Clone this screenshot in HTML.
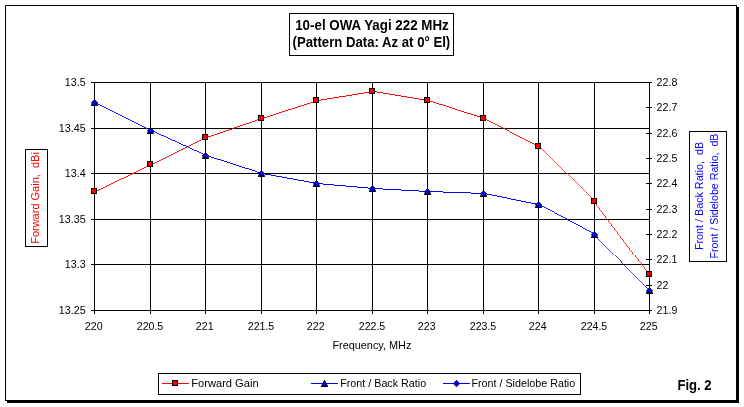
<!DOCTYPE html>
<html><head><meta charset="utf-8"><title>10-el OWA Yagi 222 MHz</title>
<style>
html,body{margin:0;padding:0;background:#fff;}
svg{display:block;}
text{font-family:"Liberation Sans",Arial,sans-serif;font-size:11px;fill:#000;}
.b{font-weight:bold;font-size:14px;}
</style></head><body>
<svg width="744" height="407" viewBox="0 0 744 407">
<rect x="0" y="0" width="744" height="407" fill="#fff"/>
<g shape-rendering="crispEdges">
<rect x="7" y="7" width="732" height="396" fill="#000"/>
<rect x="5.5" y="5.5" width="731" height="395" fill="#fff" stroke="#000" stroke-width="1"/>
<rect x="289.5" y="13.5" width="164" height="42" fill="#fff" stroke="#000" stroke-width="1"/>

<line x1="94.5" y1="82" x2="94.5" y2="314" stroke="#000"/>
<line x1="150.5" y1="82" x2="150.5" y2="314" stroke="#000"/>
<line x1="205.5" y1="82" x2="205.5" y2="314" stroke="#000"/>
<line x1="261.5" y1="82" x2="261.5" y2="314" stroke="#000"/>
<line x1="316.5" y1="82" x2="316.5" y2="314" stroke="#000"/>
<line x1="372.5" y1="82" x2="372.5" y2="314" stroke="#000"/>
<line x1="427.5" y1="82" x2="427.5" y2="314" stroke="#000"/>
<line x1="483.5" y1="82" x2="483.5" y2="314" stroke="#000"/>
<line x1="538.5" y1="82" x2="538.5" y2="314" stroke="#000"/>
<line x1="594.5" y1="82" x2="594.5" y2="314" stroke="#000"/>
<line x1="649.5" y1="82" x2="649.5" y2="314" stroke="#000"/>
<line x1="91" y1="82.5" x2="650" y2="82.5" stroke="#000"/>
<line x1="91" y1="128.5" x2="650" y2="128.5" stroke="#000"/>
<line x1="91" y1="173.5" x2="650" y2="173.5" stroke="#000"/>
<line x1="91" y1="219.5" x2="650" y2="219.5" stroke="#000"/>
<line x1="91" y1="264.5" x2="650" y2="264.5" stroke="#000"/>
<line x1="91" y1="310.5" x2="650" y2="310.5" stroke="#000"/>
</g>
<g stroke="#f00" shape-rendering="crispEdges" fill="none">
<line x1="94.50" y1="191.50" x2="150.50" y2="164.50" stroke-width="0.901"/>
<line x1="150.50" y1="164.50" x2="205.50" y2="137.50" stroke-width="0.898"/>
<line x1="205.50" y1="137.50" x2="261.50" y2="118.50" stroke-width="0.947"/>
<line x1="261.50" y1="118.50" x2="316.50" y2="100.50" stroke-width="0.950"/>
<line x1="316.50" y1="100.50" x2="372.50" y2="91.50" stroke-width="0.987"/>
<line x1="372.50" y1="91.50" x2="427.50" y2="100.50" stroke-width="0.987"/>
<line x1="427.50" y1="100.50" x2="483.50" y2="118.50" stroke-width="0.952"/>
<line x1="483.50" y1="118.50" x2="538.50" y2="146.50" stroke-width="0.891"/>
<line x1="538.50" y1="146.50" x2="594.50" y2="201.50" stroke-width="0.713"/>
<line x1="594.50" y1="201.50" x2="649.50" y2="274.50" stroke-width="0.799"/>
</g>
<g shape-rendering="crispEdges">
<rect x="91.5" y="188.5" width="5" height="5" fill="#f00" stroke="#000"/>
<rect x="147.5" y="161.5" width="5" height="5" fill="#f00" stroke="#000"/>
<rect x="202.5" y="134.5" width="5" height="5" fill="#f00" stroke="#000"/>
<rect x="258.5" y="115.5" width="5" height="5" fill="#f00" stroke="#000"/>
<rect x="313.5" y="97.5" width="5" height="5" fill="#f00" stroke="#000"/>
<rect x="369.5" y="88.5" width="5" height="5" fill="#f00" stroke="#000"/>
<rect x="424.5" y="97.5" width="5" height="5" fill="#f00" stroke="#000"/>
<rect x="480.5" y="115.5" width="5" height="5" fill="#f00" stroke="#000"/>
<rect x="535.5" y="143.5" width="5" height="5" fill="#f00" stroke="#000"/>
<rect x="591.5" y="198.5" width="5" height="5" fill="#f00" stroke="#000"/>
<rect x="646.5" y="271.5" width="5" height="5" fill="#f00" stroke="#000"/>
<line x1="646" y1="82.5" x2="652" y2="82.5" stroke="#000"/>
<line x1="646" y1="107.5" x2="652" y2="107.5" stroke="#000"/>
<line x1="646" y1="133.5" x2="652" y2="133.5" stroke="#000"/>
<line x1="646" y1="158.5" x2="652" y2="158.5" stroke="#000"/>
<line x1="646" y1="183.5" x2="652" y2="183.5" stroke="#000"/>
<line x1="646" y1="209.5" x2="652" y2="209.5" stroke="#000"/>
<line x1="646" y1="234.5" x2="652" y2="234.5" stroke="#000"/>
<line x1="646" y1="259.5" x2="652" y2="259.5" stroke="#000"/>
<line x1="646" y1="285.5" x2="652" y2="285.5" stroke="#000"/>
<line x1="646" y1="310.5" x2="652" y2="310.5" stroke="#000"/>
<line x1="649.5" y1="82" x2="649.5" y2="314" stroke="#000"/>
</g>
<g stroke="#00f" shape-rendering="crispEdges" fill="none">
<line x1="94.50" y1="102.50" x2="150.50" y2="130.50" stroke-width="0.894"/>
<line x1="150.50" y1="130.50" x2="205.50" y2="155.50" stroke-width="0.910"/>
<line x1="205.50" y1="155.50" x2="261.50" y2="173.50" stroke-width="0.952"/>
<line x1="261.50" y1="173.50" x2="316.50" y2="183.50" stroke-width="0.984"/>
<line x1="316.50" y1="183.50" x2="372.50" y2="188.50" stroke-width="0.996"/>
<line x1="372.50" y1="188.50" x2="427.50" y2="191.50" stroke-width="0.999"/>
<line x1="427.50" y1="191.50" x2="483.50" y2="193.50" stroke-width="0.999"/>
<line x1="483.50" y1="193.50" x2="538.50" y2="204.50" stroke-width="0.981"/>
<line x1="538.50" y1="204.50" x2="594.50" y2="234.50" stroke-width="0.881"/>
<line x1="594.50" y1="234.50" x2="649.50" y2="290.50" stroke-width="0.713"/>
</g>
<polygon points="94.5,99.89999999999999 97.7,105.5 91.3,105.5" fill="#00f" stroke="#000" stroke-width="1"/>
<polygon points="94.5,99.89999999999999 97.7,102.8 94.5,105.4 91.3,102.8" fill="#00f" stroke="#003" stroke-width="0.9"/>
<polygon points="150.5,127.89999999999999 153.7,133.5 147.3,133.5" fill="#00f" stroke="#000" stroke-width="1"/>
<polygon points="150.5,127.89999999999999 153.7,130.8 150.5,133.39999999999998 147.3,130.8" fill="#00f" stroke="#003" stroke-width="0.9"/>
<polygon points="205.5,152.9 208.7,158.5 202.3,158.5" fill="#00f" stroke="#000" stroke-width="1"/>
<polygon points="205.5,152.9 208.7,155.8 205.5,158.39999999999998 202.3,155.8" fill="#00f" stroke="#003" stroke-width="0.9"/>
<polygon points="261.5,170.9 264.7,176.5 258.3,176.5" fill="#00f" stroke="#000" stroke-width="1"/>
<polygon points="261.5,170.9 264.7,173.8 261.5,176.39999999999998 258.3,173.8" fill="#00f" stroke="#003" stroke-width="0.9"/>
<polygon points="316.5,180.9 319.7,186.5 313.3,186.5" fill="#00f" stroke="#000" stroke-width="1"/>
<polygon points="316.5,180.9 319.7,183.8 316.5,186.39999999999998 313.3,183.8" fill="#00f" stroke="#003" stroke-width="0.9"/>
<polygon points="372.5,185.9 375.7,191.5 369.3,191.5" fill="#00f" stroke="#000" stroke-width="1"/>
<polygon points="372.5,185.9 375.7,188.8 372.5,191.39999999999998 369.3,188.8" fill="#00f" stroke="#003" stroke-width="0.9"/>
<polygon points="427.5,188.9 430.7,194.5 424.3,194.5" fill="#00f" stroke="#000" stroke-width="1"/>
<polygon points="427.5,188.9 430.7,191.8 427.5,194.39999999999998 424.3,191.8" fill="#00f" stroke="#003" stroke-width="0.9"/>
<polygon points="483.5,190.9 486.7,196.5 480.3,196.5" fill="#00f" stroke="#000" stroke-width="1"/>
<polygon points="483.5,190.9 486.7,193.8 483.5,196.39999999999998 480.3,193.8" fill="#00f" stroke="#003" stroke-width="0.9"/>
<polygon points="538.5,201.9 541.7,207.5 535.3,207.5" fill="#00f" stroke="#000" stroke-width="1"/>
<polygon points="538.5,201.9 541.7,204.8 538.5,207.39999999999998 535.3,204.8" fill="#00f" stroke="#003" stroke-width="0.9"/>
<polygon points="594.5,231.9 597.7,237.5 591.3,237.5" fill="#00f" stroke="#000" stroke-width="1"/>
<polygon points="594.5,231.9 597.7,234.8 594.5,237.39999999999998 591.3,234.8" fill="#00f" stroke="#003" stroke-width="0.9"/>
<polygon points="649.5,287.90000000000003 652.7,293.5 646.3,293.5" fill="#00f" stroke="#000" stroke-width="1"/>
<polygon points="649.5,287.90000000000003 652.7,290.8 649.5,293.4 646.3,290.8" fill="#00f" stroke="#003" stroke-width="0.9"/>
<text x="85.7" y="86" text-anchor="end" textLength="20.88" lengthAdjust="spacingAndGlyphs">13.5</text>
<text x="85.7" y="132" text-anchor="end" textLength="26.84" lengthAdjust="spacingAndGlyphs">13.45</text>
<text x="85.7" y="177" text-anchor="end" textLength="20.88" lengthAdjust="spacingAndGlyphs">13.4</text>
<text x="85.7" y="223" text-anchor="end" textLength="26.84" lengthAdjust="spacingAndGlyphs">13.35</text>
<text x="85.7" y="268" text-anchor="end" textLength="20.88" lengthAdjust="spacingAndGlyphs">13.3</text>
<text x="85.7" y="314" text-anchor="end" textLength="26.84" lengthAdjust="spacingAndGlyphs">13.25</text>
<text x="656.6" y="86" textLength="20.73" lengthAdjust="spacingAndGlyphs">22.8</text>
<text x="656.6" y="111" textLength="20.73" lengthAdjust="spacingAndGlyphs">22.7</text>
<text x="656.6" y="137" textLength="20.73" lengthAdjust="spacingAndGlyphs">22.6</text>
<text x="656.6" y="162" textLength="20.73" lengthAdjust="spacingAndGlyphs">22.5</text>
<text x="656.6" y="187" textLength="20.73" lengthAdjust="spacingAndGlyphs">22.4</text>
<text x="656.6" y="213" textLength="20.73" lengthAdjust="spacingAndGlyphs">22.3</text>
<text x="656.6" y="238" textLength="20.73" lengthAdjust="spacingAndGlyphs">22.2</text>
<text x="656.6" y="263" textLength="20.73" lengthAdjust="spacingAndGlyphs">22.1</text>
<text x="656.6" y="289" textLength="11.86" lengthAdjust="spacingAndGlyphs">22</text>
<text x="656.6" y="314" textLength="20.73" lengthAdjust="spacingAndGlyphs">21.9</text>
<text x="93.7" y="330" text-anchor="middle" textLength="17.7" lengthAdjust="spacingAndGlyphs">220</text>
<text x="150.0" y="330" text-anchor="middle" textLength="26.5" lengthAdjust="spacingAndGlyphs">220.5</text>
<text x="204.7" y="330" text-anchor="middle" textLength="17.7" lengthAdjust="spacingAndGlyphs">221</text>
<text x="261.0" y="330" text-anchor="middle" textLength="26.5" lengthAdjust="spacingAndGlyphs">221.5</text>
<text x="315.7" y="330" text-anchor="middle" textLength="17.7" lengthAdjust="spacingAndGlyphs">222</text>
<text x="372.0" y="330" text-anchor="middle" textLength="26.5" lengthAdjust="spacingAndGlyphs">222.5</text>
<text x="426.7" y="330" text-anchor="middle" textLength="17.7" lengthAdjust="spacingAndGlyphs">223</text>
<text x="483.0" y="330" text-anchor="middle" textLength="26.5" lengthAdjust="spacingAndGlyphs">223.5</text>
<text x="537.7" y="330" text-anchor="middle" textLength="17.7" lengthAdjust="spacingAndGlyphs">224</text>
<text x="594.0" y="330" text-anchor="middle" textLength="26.5" lengthAdjust="spacingAndGlyphs">224.5</text>
<text x="648.7" y="330" text-anchor="middle" textLength="17.7" lengthAdjust="spacingAndGlyphs">225</text>
<text x="371.9" y="349" text-anchor="middle" textLength="79" lengthAdjust="spacingAndGlyphs">Frequency, MHz</text>
<text class="b" x="372" y="30" text-anchor="middle" textLength="153.6" lengthAdjust="spacingAndGlyphs">10-el OWA Yagi 222 MHz</text>
<text class="b" x="371.4" y="46.9" text-anchor="middle" textLength="157.7" lengthAdjust="spacingAndGlyphs">(Pattern Data: Az at 0° El)</text>
<text class="b" x="677.4" y="390" textLength="34.2" lengthAdjust="spacingAndGlyphs">Fig. 2</text>
<rect x="25.5" y="149.5" width="22" height="97" fill="#fff" stroke="#000" shape-rendering="crispEdges"/>
<text transform="translate(39,198) rotate(-90)" text-anchor="middle" style="fill:#f00" xml:space="preserve">Forward Gain,  dBi</text>
<rect x="689.5" y="131.5" width="37" height="130" fill="#fff" stroke="#000" shape-rendering="crispEdges"/>
<text transform="translate(703,196) rotate(-90)" text-anchor="middle" style="fill:#00f" xml:space="preserve" textLength="108.1" lengthAdjust="spacingAndGlyphs">Front / Back Ratio,  dB</text>
<text transform="translate(718,196) rotate(-90)" text-anchor="middle" style="fill:#00f" xml:space="preserve" textLength="124.9" lengthAdjust="spacingAndGlyphs">Front / Sidelobe Ratio,  dB</text>
<g shape-rendering="crispEdges">
<rect x="158.5" y="373.5" width="422" height="21" fill="#fff" stroke="#000"/>
<line x1="162" y1="383.5" x2="189" y2="383.5" stroke="#f00"/>
<rect x="172.5" y="380.5" width="5" height="5" fill="#f00" stroke="#000"/>
<line x1="311" y1="383.5" x2="338" y2="383.5" stroke="#00f"/>
<line x1="443" y1="383.5" x2="470" y2="383.5" stroke="#00f"/>
</g>
<polygon points="324.5,380.3 327.7,386.5 321.3,386.5" fill="#00f" stroke="#000" stroke-width="1"/>
<polygon points="456.5,380.3 459.7,383.5 456.5,386.7 453.3,383.5" fill="#00f" stroke="#003" stroke-width="0.9"/>
<text x="191.3" y="387" textLength="67.3" lengthAdjust="spacingAndGlyphs">Forward Gain</text>
<text x="340.2" y="387" textLength="86" lengthAdjust="spacingAndGlyphs">Front / Back Ratio</text>
<text x="471.5" y="387" textLength="103.7" lengthAdjust="spacingAndGlyphs">Front / Sidelobe Ratio</text>
</svg></body></html>
